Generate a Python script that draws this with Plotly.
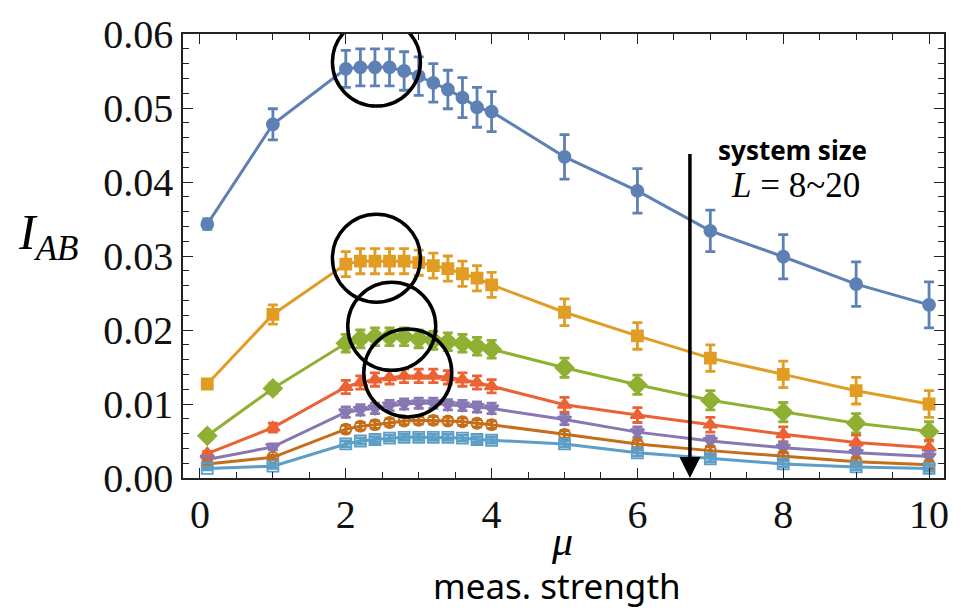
import plotly.graph_objects as go

# measurement strength values (shared by all system sizes)
mu = [0.1, 1, 2, 2.2, 2.4, 2.6, 2.8, 3.0, 3.2, 3.4, 3.6, 3.8, 4.0, 5, 6, 7, 8, 9, 10]

# mutual information I_AB for each system size, with error bars
i_L1 = [0.0343, 0.0478, 0.0553, 0.0555, 0.0555, 0.0555, 0.0550, 0.0543, 0.0534, 0.0525,
        0.0514, 0.0501, 0.0495, 0.0434, 0.0388, 0.0334, 0.0299, 0.0262, 0.0234]
e_L1 = [0.0007, 0.0021, 0.0025, 0.0025, 0.0025, 0.0025, 0.0026, 0.0026, 0.0026, 0.0026,
        0.0027, 0.0027, 0.0027, 0.0030, 0.0030, 0.0028, 0.0030, 0.0030, 0.0031]

i_L2 = [0.0127, 0.0221, 0.0289, 0.0293, 0.0293, 0.0293, 0.0293, 0.0291, 0.0287, 0.0283,
        0.0276, 0.0270, 0.0261, 0.0224, 0.0192, 0.0162, 0.0140, 0.0118, 0.0100]
e_L2 = [0.0004, 0.0013, 0.0017, 0.0017, 0.0017, 0.0017, 0.0017, 0.0017, 0.0017, 0.0017,
        0.0017, 0.0017, 0.0017, 0.0018, 0.0018, 0.0018, 0.0018, 0.0018, 0.0018]

i_L3 = [0.0057, 0.0121, 0.0182, 0.0188, 0.0191, 0.0191, 0.0191, 0.0188, 0.0186, 0.0184,
        0.0182, 0.0178, 0.0174, 0.0149, 0.0126, 0.0105, 0.0089, 0.0074, 0.0063]
e_L3 = [0.0003, 0.0007, 0.0012, 0.0012, 0.0012, 0.0012, 0.0012, 0.0012, 0.0012, 0.0012,
        0.0012, 0.0012, 0.0012, 0.0013, 0.0013, 0.0013, 0.0013, 0.0013, 0.0013]

i_L4 = [0.0033, 0.0068, 0.0123, 0.0129, 0.0133, 0.0136, 0.0138, 0.0138, 0.0138, 0.0136,
        0.0133, 0.0129, 0.0124, 0.0099, 0.0085, 0.0072, 0.0059, 0.0048, 0.0041]
e_L4 = [0.0003, 0.0006, 0.0009, 0.0009, 0.0009, 0.0009, 0.0009, 0.0009, 0.0009, 0.0009,
        0.0009, 0.0009, 0.0009, 0.0010, 0.0010, 0.0010, 0.0010, 0.0010, 0.0010]

i_L5 = [0.0025, 0.0042, 0.0089, 0.0092, 0.0094, 0.0098, 0.0100, 0.0101, 0.0101, 0.0099,
        0.0098, 0.0096, 0.0094, 0.0079, 0.0062, 0.0050, 0.0041, 0.0034, 0.0029]
e_L5 = [0.0002, 0.0004, 0.0007, 0.0007, 0.0007, 0.0007, 0.0007, 0.0007, 0.0007, 0.0007,
        0.0007, 0.0007, 0.0007, 0.0007, 0.0007, 0.0007, 0.0007, 0.0007, 0.0007]

i_L6 = [0.0019, 0.0028, 0.0066, 0.0070, 0.0072, 0.0075, 0.0077, 0.0078, 0.0078, 0.0077,
        0.0076, 0.0074, 0.0072, 0.0059, 0.0046, 0.0037, 0.0030, 0.0022, 0.0018]
e_L6 = [0.0002, 0.0003, 0.0005, 0.0005, 0.0005, 0.0005, 0.0005, 0.0005, 0.0005, 0.0005,
        0.0005, 0.0005, 0.0005, 0.0005, 0.0005, 0.0005, 0.0005, 0.0005, 0.0005]

i_L7 = [0.0013, 0.0016, 0.0046, 0.0050, 0.0052, 0.0054, 0.0055, 0.0055, 0.0055, 0.0055,
        0.0054, 0.0052, 0.0051, 0.0046, 0.0034, 0.0026, 0.0019, 0.0015, 0.0013]
e_L7 = [0.0002, 0.0003, 0.0004, 0.0004, 0.0004, 0.0004, 0.0004, 0.0004, 0.0004, 0.0004,
        0.0004, 0.0004, 0.0004, 0.0004, 0.0004, 0.0004, 0.0004, 0.0004, 0.0004]

series_y = [i_L1, i_L2, i_L3, i_L4, i_L5, i_L6, i_L7]
series_e = [e_L1, e_L2, e_L3, e_L4, e_L5, e_L6, e_L7]

colors = ["#5E81B5", "#E19C24", "#8FB032", "#EB6235", "#8778B3", "#C56E1A", "#5D9EC7"]
symbols = ["circle", "square", "diamond", "triangle-up", "triangle-down",
           "circle-open", "square-open"]
sizes = [12, 11, 14, 12, 12, 11, 11]

x_ticks = [0, 2, 4, 6, 8, 10]
y_ticks = [0.00, 0.01, 0.02, 0.03, 0.04, 0.05, 0.06]

fig = go.Figure()
for yv, ev, c, s, sz in zip(series_y, series_e, colors, symbols, sizes):
    fig.add_trace(go.Scatter(
        x=mu, y=yv, mode="lines+markers",
        line=dict(color=c, width=3),
        marker=dict(color=c, symbol=s, size=sz, line=dict(color=c, width=1.8)),
        error_y=dict(type="data", array=ev, visible=True, color=c,
                     thickness=2.8, width=5),
        showlegend=False,
    ))

# highlight circles around the peaks (fixed pixel radius, anchored in data space)
peaks = [(2.42, 0.0562), (2.42, 0.0297), (2.63, 0.0205), (2.85, 0.0142)]
for cx, cy in peaks:
    fig.add_shape(type="circle", xref="x", yref="y",
                  xsizemode="pixel", ysizemode="pixel",
                  xanchor=cx, yanchor=cy, x0=-44, x1=44, y0=-44, y1=44,
                  line=dict(color="black", width=3.5), layer="above")

# arrow indicating increasing system size
fig.add_annotation(x=6.72, y=0.0, ax=6.72, ay=0.0440, xref="x", yref="y",
                   axref="x", ayref="y", showarrow=True, arrowhead=2,
                   arrowsize=1.2, arrowwidth=3.5, arrowcolor="black",
                   standoff=0, startstandoff=0, text="")
fig.add_annotation(x=8.13, y=0.0443, xref="x", yref="y", showarrow=False,
                   xanchor="center", yanchor="middle",
                   text="<b>system size</b>",
                   font=dict(family="Noto Sans", size=26, color="black"))
fig.add_annotation(x=8.17, y=0.0395, xref="x", yref="y", showarrow=False,
                   xanchor="center", yanchor="middle",
                   text="<i>L</i> = 8~20",
                   font=dict(family="Liberation Serif", size=35, color="black"))

# axis titles
fig.add_annotation(x=-0.219, y=0.545, xref="paper", yref="paper", showarrow=False,
                   text="<i>I</i><sub><i>AB</i></sub>",
                   font=dict(family="Liberation Serif", size=50, color="black"))
fig.add_annotation(x=0.498, y=-0.143, xref="paper", yref="paper", showarrow=False,
                   xanchor="center", yanchor="middle",
                   text="<i>μ</i>",
                   font=dict(family="Liberation Serif", size=42, color="black"))
fig.add_annotation(x=0.492, y=-0.243, xref="paper", yref="paper", showarrow=False,
                   xanchor="center", yanchor="middle",
                   text="meas. strength",
                   font=dict(family="Noto Sans", size=35, color="black"))

axis_common = dict(showline=True, linecolor="#222", linewidth=1.6, mirror="allticks",
                   ticks="inside", ticklen=10, tickwidth=1.4, tickcolor="#222",
                   showgrid=False, zeroline=False,
                   tickfont=dict(family="Liberation Serif", size=40, color="#111"))

fig.update_xaxes(range=[-0.233, 10.205], tickvals=x_ticks,
                 minor=dict(dtick=0.5, ticklen=6, tickwidth=1.2, tickcolor="#222",
                            ticks="inside"),
                 **axis_common)
fig.update_yaxes(range=[0, 0.06], tickvals=y_ticks, tickformat=".2f",
                 minor=dict(dtick=0.002, ticklen=6, tickwidth=1.2, tickcolor="#222",
                            ticks="inside"),
                 **axis_common)

fig.update_layout(width=961, height=610,
                  margin=dict(l=183, r=15, t=22, b=132),
                  plot_bgcolor="white", paper_bgcolor="white")

fig.write_html("out.html")
